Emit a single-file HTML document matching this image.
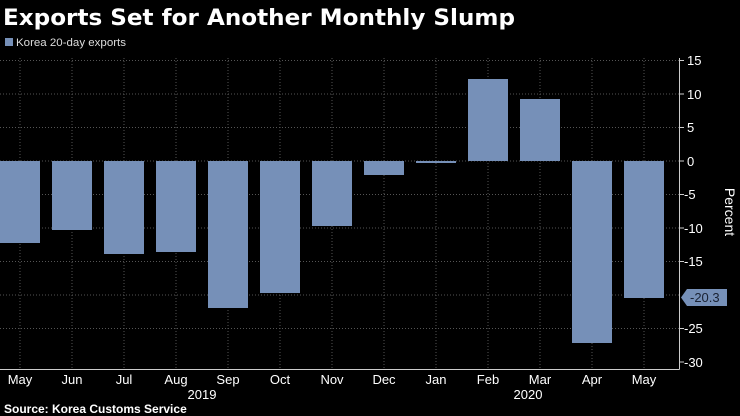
<!DOCTYPE html>
<html><head><meta charset="utf-8"><style>
html,body{margin:0;padding:0;background:#000;width:740px;height:416px;overflow:hidden}
text{font-family:"Liberation Sans",sans-serif;fill:#fff}
</style></head><body>
<svg width="740" height="416" xmlns="http://www.w3.org/2000/svg">
<rect width="740" height="416" fill="#000"/>
<text x="3" y="25" font-size="22" font-weight="bold" style="font-family:'DejaVu Sans',sans-serif" textLength="512" lengthAdjust="spacingAndGlyphs">Exports Set for Another Monthly Slump</text>
<rect x="5" y="38" width="8" height="8" fill="#7690b8"/>
<text x="16" y="46" font-size="11" style="fill:#ddd" textLength="110" lengthAdjust="spacingAndGlyphs">Korea 20-day exports</text>
<g stroke="#555" stroke-dasharray="1,2" stroke-width="1">
<line x1="0" x2="679" y1="60.5" y2="60.5"/><line x1="0" x2="679" y1="94" y2="94"/>
<line x1="0" x2="679" y1="127.5" y2="127.5"/><line x1="0" x2="679" y1="161" y2="161"/>
<line x1="0" x2="679" y1="194.5" y2="194.5"/><line x1="0" x2="679" y1="228" y2="228"/>
<line x1="0" x2="679" y1="261.5" y2="261.5"/><line x1="0" x2="679" y1="295" y2="295"/>
<line x1="0" x2="679" y1="328.5" y2="328.5"/>
<line x1="20" x2="20" y1="58" y2="369"/><line x1="72" x2="72" y1="58" y2="369"/>
<line x1="124" x2="124" y1="58" y2="369"/><line x1="176" x2="176" y1="58" y2="369"/>
<line x1="228" x2="228" y1="58" y2="369"/><line x1="280" x2="280" y1="58" y2="369"/>
<line x1="332" x2="332" y1="58" y2="369"/><line x1="384" x2="384" y1="58" y2="369"/>
<line x1="436" x2="436" y1="58" y2="369"/><line x1="488" x2="488" y1="58" y2="369"/>
<line x1="540" x2="540" y1="58" y2="369"/><line x1="592" x2="592" y1="58" y2="369"/>
<line x1="644" x2="644" y1="58" y2="369"/>
</g>
<g fill="#7690b8">
<rect x="0" y="161" width="40" height="82"/>
<rect x="52" y="161" width="40" height="69"/>
<rect x="104" y="161" width="40" height="93"/>
<rect x="156" y="161" width="40" height="91"/>
<rect x="208" y="161" width="40" height="147"/>
<rect x="260" y="161" width="40" height="132"/>
<rect x="312" y="161" width="40" height="65"/>
<rect x="364" y="161" width="40" height="14"/>
<rect x="416" y="161" width="40" height="2"/>
<rect x="468" y="79" width="40" height="82"/>
<rect x="520" y="99" width="40" height="62"/>
<rect x="572" y="161" width="40" height="182"/>
<rect x="624" y="161" width="40" height="137"/>
</g>
<g stroke="#ccc" stroke-width="1">
<line x1="0" x2="679.5" y1="369.5" y2="369.5"/>
<line x1="679.5" x2="679.5" y1="58" y2="369.5"/>
</g>
<g stroke="#ccc">
<line x1="679" x2="684" y1="60.5" y2="60.5"/><line x1="679" x2="684" y1="94" y2="94"/>
<line x1="679" x2="684" y1="127.5" y2="127.5"/><line x1="679" x2="684" y1="161" y2="161"/>
<line x1="679" x2="684" y1="194.5" y2="194.5"/><line x1="679" x2="684" y1="228" y2="228"/>
<line x1="679" x2="684" y1="261.5" y2="261.5"/>
<line x1="679" x2="684" y1="328.5" y2="328.5"/><line x1="679" x2="684" y1="362" y2="362"/>
</g>
<g font-size="13">
<text x="687" y="65">15</text><text x="687" y="99">10</text><text x="687" y="132">5</text>
<text x="687" y="166">0</text><text x="684" y="199">-5</text><text x="684" y="233">-10</text>
<text x="684" y="266">-15</text><text x="684" y="333">-25</text><text x="684" y="367">-30</text>
</g>
<polygon points="681,297.5 687,289 727,289 727,306 687,306" fill="#7690b8"/>
<text x="690" y="302" font-size="13" style="fill:#1a2233">-20.3</text>
<text transform="translate(725,212) rotate(90)" font-size="14" text-anchor="middle">Percent</text>
<g font-size="13" text-anchor="middle">
<text x="20" y="384">May</text><text x="72" y="384">Jun</text><text x="124" y="384">Jul</text>
<text x="176" y="384">Aug</text><text x="228" y="384">Sep</text><text x="280" y="384">Oct</text>
<text x="332" y="384">Nov</text><text x="384" y="384">Dec</text><text x="436" y="384">Jan</text>
<text x="488" y="384">Feb</text><text x="540" y="384">Mar</text><text x="592" y="384">Apr</text>
<text x="644" y="384">May</text>
<text x="202" y="399">2019</text><text x="528" y="399">2020</text>
</g>
<text x="4" y="413" font-size="12" font-weight="bold">Source: Korea Customs Service</text>
</svg>
</body></html>
